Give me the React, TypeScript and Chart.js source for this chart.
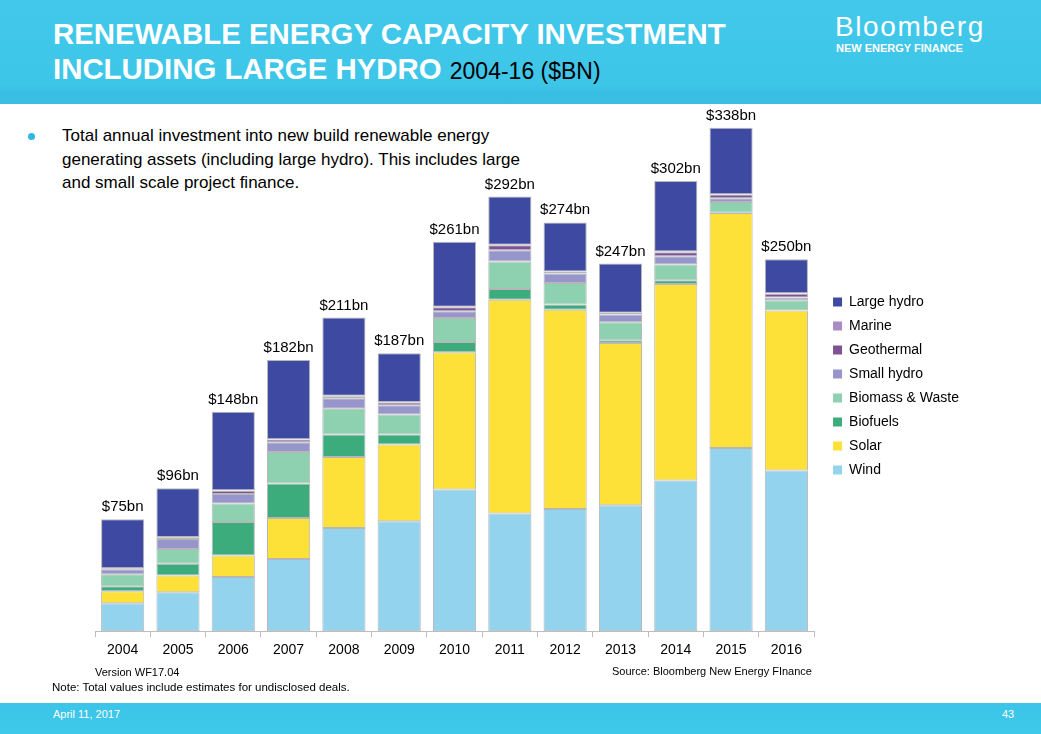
import { useEffect, useRef } from 'react';
import { Chart, registerables } from 'chart.js';

Chart.register(...registerables);

const FONT = '"Liberation Sans", Arial, Helvetica, sans-serif';

const years = ['2004', '2005', '2006', '2007', '2008', '2009', '2010', '2011', '2012', '2013', '2014', '2015', '2016'];
const totalLabels = ['$75bn', '$96bn', '$148bn', '$182bn', '$211bn', '$187bn', '$261bn', '$292bn', '$274bn', '$247bn', '$302bn', '$338bn', '$250bn'];

const wind = [18.8, 26.2, 36.4, 48.5, 69.3, 73.8, 95.0, 78.9, 82.0, 84.5, 101.1, 122.9, 107.8];
const solar = [8.0, 11.2, 14.4, 27.5, 47.6, 51.4, 92.1, 143.5, 133.7, 108.9, 131.9, 157.6, 107.3];
const biofuels = [3.4, 7.8, 22.5, 23.1, 15.0, 6.7, 6.9, 7.1, 3.4, 1.8, 2.5, 0.3, 0.3];
const biomass = [8.0, 9.9, 12.3, 21.2, 17.4, 13.4, 16.1, 18.6, 14.5, 12.1, 10.5, 7.2, 6.7];
const smallHydro = [3.4, 6.7, 6.4, 6.5, 7.0, 6.2, 4.5, 7.4, 6.4, 5.2, 5.6, 2.5, 1.7];
const geothermal = [0.6, 1.3, 2.3, 1.8, 1.3, 2.0, 2.7, 3.4, 1.0, 1.0, 2.7, 2.4, 2.6];
const marine = [0.0, 0.1, 0.2, 0.2, 0.3, 0.3, 0.3, 0.3, 0.3, 0.2, 0.4, 0.3, 0.3];
const largeHydro = [32.9, 32.7, 52.7, 53.2, 52.5, 32.7, 43.6, 32.4, 32.9, 32.9, 47.3, 44.5, 22.8];

const seriesNames = ['Wind', 'Solar', 'Biofuels', 'Biomass & Waste', 'Small hydro', 'Geothermal', 'Marine', 'Large hydro'];
const seriesColors = ['#93D3EE', '#FDE138', '#3CAC7C', '#8ED1B1', '#9696CC', '#7E5293', '#A98BC6', '#3E4AA1'];
const seriesData = [wind, solar, biofuels, biomass, smallHydro, geothermal, marine, largeHydro];

const totalsPlugin = {
  id: 'totals',
  afterDatasetsDraw(chart: any) {
    const { ctx, scales } = chart;
    const y = scales.y;
    const meta = chart.getDatasetMeta(0);
    ctx.save();
    ctx.font = `15px ${FONT}`;
    ctx.fillStyle = '#000';
    ctx.textAlign = 'center';
    ctx.textBaseline = 'alphabetic';
    years.forEach((_, i) => {
      const sum = chart.data.datasets.reduce((s: number, d: any) => s + (d.data[i] as number), 0);
      const xp = meta.data[i].x;
      ctx.fillText(totalLabels[i], xp, y.getPixelForValue(sum) - 8);
    });
    ctx.restore();
  },
};

function BarChart() {
  const ref = useRef<HTMLCanvasElement | null>(null);
  useEffect(() => {
    if (!ref.current) return;
    const chart = new Chart(ref.current, {
      type: 'bar',
      data: {
        labels: years,
        datasets: seriesNames.map((name, i) => ({
          label: name,
          data: seriesData[i],
          backgroundColor: seriesColors[i],
          borderColor: 'rgba(175,175,175,0.9)',
          borderWidth: 1,
          borderSkipped: false,
          barPercentage: 0.78,
          categoryPercentage: 1,
        })),
      },
      options: {
        animation: false,
        responsive: true,
        maintainAspectRatio: false,
        layout: { padding: { left: 95, right: 72, top: 8, bottom: 11 } },
        plugins: {
          legend: {
            position: 'right',
            align: 'center',
            reverse: true,
            labels: {
              boxWidth: 9,
              boxHeight: 9,
              padding: 10,
              color: '#000',
              font: { size: 14, family: FONT },
              generateLabels: (c: any) =>
                (Chart.defaults.plugins.legend.labels as any).generateLabels(c).map((l: any) => ({
                  ...l,
                  lineWidth: 0,
                  strokeStyle: l.fillStyle,
                })),
            },
          },
          tooltip: { enabled: false },
        },
        scales: {
          x: {
            stacked: true,
            grid: { display: true, drawOnChartArea: false, drawTicks: true, tickLength: 6, color: '#bdbdbd', offset: true },
            border: { display: true, color: '#bdbdbd' },
            ticks: { color: '#000', font: { size: 14, family: FONT }, padding: 5, maxRotation: 0, autoSkip: false },
          },
          y: {
            stacked: true,
            position: 'right',
            min: 0,
            max: 351,
            ticks: { display: false },
            grid: { display: false },
            border: { display: false },
            afterFit: (s: any) => {
              s.width = 9;
            },
          },
        },
      },
      plugins: [totalsPlugin],
    } as any);
    return () => chart.destroy();
  }, []);
  return <canvas ref={ref} />;
}

export default function App() {
  const abs = (o: any) => ({ position: 'absolute' as const, ...o });
  return (
    <div style={abs({ left: 0, top: 0, width: 1041, height: 734, overflow: 'hidden', background: '#fff', fontFamily: FONT })}>
      <div style={abs({ left: 0, top: 0, width: 1041, height: 104, background: 'linear-gradient(180deg, #41C8EA 0%, #3EC6E9 82%, #38BEE2 88%, #3ABFE3 100%)' })} />
      <div style={abs({ left: 53, top: 16, color: '#fff', fontWeight: 'bold', fontSize: 29.4, lineHeight: '35px', whiteSpace: 'nowrap' })}>
        RENEWABLE ENERGY CAPACITY INVESTMENT
        <br />
        INCLUDING LARGE HYDRO <span style={{ color: '#000', fontWeight: 'normal', fontSize: 23 }}>2004-16 ($BN)</span>
      </div>
      <div style={abs({ left: 835, top: 10, color: '#fff', fontSize: 28, letterSpacing: 1.6, lineHeight: '34px', whiteSpace: 'nowrap' })}>Bloomberg</div>
      <div style={abs({ left: 836, top: 42, color: '#fff', fontSize: 11, fontWeight: 'bold', lineHeight: '13px', whiteSpace: 'nowrap' })}>NEW ENERGY FINANCE</div>

      <div style={abs({ left: 28, top: 133, width: 7, height: 7, borderRadius: '50%', background: '#2DB8E0' })} />
      <div style={abs({ left: 62, top: 124, width: 472, color: '#000', fontSize: 17, lineHeight: '23.5px' })}>
        Total annual investment into new build renewable energy generating assets (including large hydro). This includes large and small scale project finance.
      </div>

      <div style={abs({ left: 0, top: 100, width: 1041, height: 575 })}>
        <BarChart />
      </div>

      <div style={abs({ left: 95, top: 666, fontSize: 11, color: '#000', whiteSpace: 'nowrap' })}>Version WF17.04</div>
      <div style={abs({ left: 612, top: 665, fontSize: 11, color: '#000', whiteSpace: 'nowrap' })}>Source: Bloomberg New Energy FInance</div>
      <div style={abs({ left: 52, top: 681, fontSize: 11.5, color: '#000', whiteSpace: 'nowrap' })}>Note: Total values include estimates for undisclosed deals.</div>

      <div style={abs({ left: 0, top: 703, width: 1041, height: 31, background: 'linear-gradient(180deg, #3CC5E8 0%, #3EC8EA 100%)' })} />
      <div style={abs({ left: 53, top: 708, fontSize: 11, color: '#fff', whiteSpace: 'nowrap' })}>April 11, 2017</div>
      <div style={abs({ left: 1002, top: 708, fontSize: 11, color: '#fff', whiteSpace: 'nowrap' })}>43</div>
    </div>
  );
}
